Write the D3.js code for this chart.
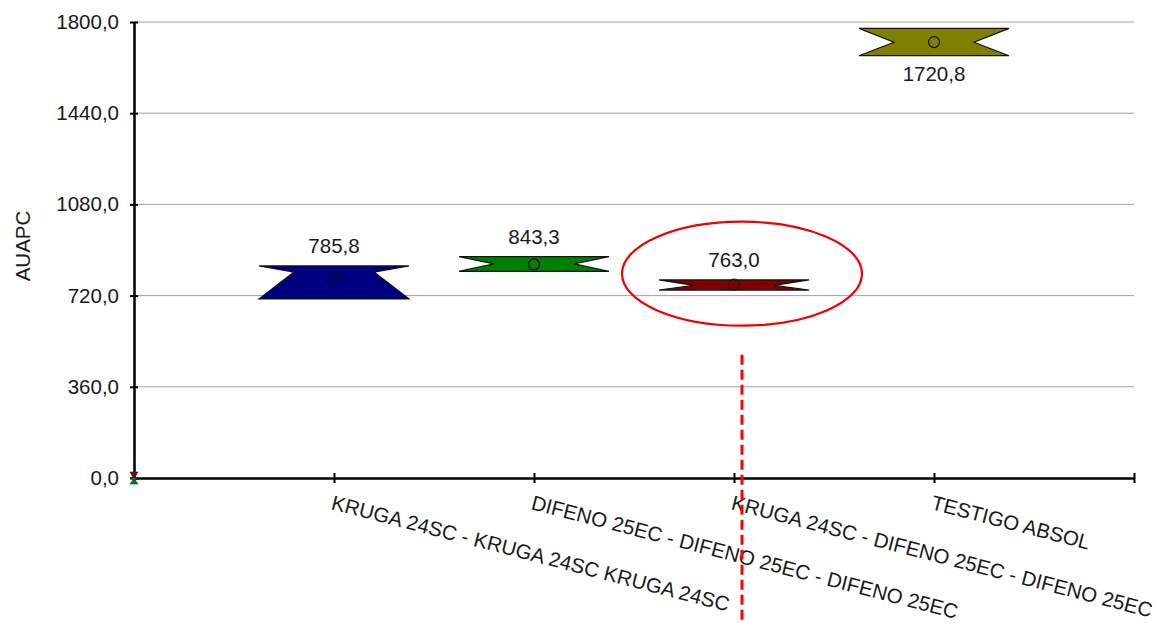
<!DOCTYPE html>
<html>
<head>
<meta charset="utf-8">
<script src="https://cdn.jsdelivr.net/npm/d3@7"></script>
<style>
  body { margin: 0; background: #fff; }
  text { font-family: "Liberation Sans", Arial, sans-serif; fill: #1a1a1a; }
</style>
</head>
<body>
<script>
// Treatments and their box statistics (AUAPC)
const categories = [
    "KRUGA 24SC - KRUGA 24SC KRUGA 24SC",
    "DIFENO 25EC - DIFENO 25EC - DIFENO 25EC",
    "KRUGA 24SC - DIFENO 25EC - DIFENO 25EC",
    "TESTIGO ABSOL"
];
const means   = [785.8, 843.3, 763.0, 1720.8];
const lower   = [707, 816, 742, 1667];   // bottom edge of box
const upper   = [837, 874, 782, 1775];   // top edge of box
const medians = [813, 845, 760, 1720];   // notch tips
const colors  = ["#000080", "#008000", "#800000", "#808000"];
const yTicks  = [0, 360, 720, 1080, 1440, 1800];

const width = 1158, height = 623;
const fontSize = 20.5;

const svg = d3.select("body").append("svg")
    .attr("width", width)
    .attr("height", height);

// Scales: x runs 0..5 with treatments at 1..4
const x = d3.scaleLinear().domain([0, 5]).range([134, 1134]);
const y = d3.scaleLinear().domain([0, 1800]).range([478, 22]);
const fmt = v => d3.format(".1f")(v).replace(".", ",");

// Grid lines
svg.append("g")
    .selectAll("line")
    .data(yTicks.filter(d => d > 0))
    .enter().append("line")
    .attr("x1", x(0)).attr("x2", x(5))
    .attr("y1", d => y(d)).attr("y2", d => y(d))
    .attr("stroke", "#a0a0a0")
    .attr("stroke-width", 1);

// Y axis
const yAxis = svg.append("g")
    .attr("transform", `translate(${x(0)},0)`)
    .call(d3.axisLeft(y).tickValues(yTicks).tickSize(4).tickSizeOuter(0).tickFormat(fmt));
yAxis.select(".domain").attr("stroke", "#000").attr("stroke-width", 2.5);
yAxis.selectAll(".tick line").attr("x2", 4).attr("x1", -4).attr("stroke", "#000").attr("stroke-width", 2);
yAxis.selectAll(".tick text")
    .attr("x", -15)
    .style("font-size", fontSize + "px")
    .style("font-family", "Liberation Sans, Arial, sans-serif")
    .attr("fill", "#1a1a1a");

// X axis
const xAxis = svg.append("g")
    .attr("transform", `translate(0,${y(0)})`)
    .call(d3.axisBottom(x).tickValues([0, 1, 2, 3, 4, 5]).tickSize(4).tickSizeOuter(0).tickFormat(""));
xAxis.select(".domain").attr("stroke", "#000").attr("stroke-width", 2.5);
xAxis.selectAll(".tick line").attr("y1", -5).attr("y2", 5).attr("stroke", "#000").attr("stroke-width", 2);

// Rotated category labels
svg.append("g")
    .selectAll("text")
    .data(categories)
    .enter().append("text")
    .attr("transform", (d, i) => `translate(${x(i + 1)},${y(0) + 16}) rotate(14.5)`)
    .attr("dy", "0.75em")
    .style("font-size", fontSize + "px")
    .text(d => d);

// Y axis title
svg.append("text")
    .attr("transform", `translate(30,${(y(0) + y(1800)) / 2 - 4}) rotate(-90)`)
    .attr("text-anchor", "middle")
    .style("font-size", fontSize + "px")
    .text("AUAPC");

// Notched boxes
const band = x(1) - x(0);
const halfW = band * 0.375;
const tipW = band * 0.2;

const boxes = svg.append("g")
    .selectAll("g")
    .data(categories.map((c, i) => ({ i: i, lo: lower[i], hi: upper[i], med: medians[i], mean: means[i] })))
    .enter().append("g");

boxes.append("path")
    .attr("d", d => {
        const cx = x(d.i + 1);
        const pts = [
            [cx - halfW, y(d.lo)], [cx - tipW, y(d.med)], [cx - halfW, y(d.hi)],
            [cx + halfW, y(d.hi)], [cx + tipW, y(d.med)], [cx + halfW, y(d.lo)]
        ];
        return d3.line()(pts) + "Z";
    })
    .attr("fill", d => colors[d.i])
    .attr("stroke", "#111")
    .attr("stroke-width", 1.2);

boxes.append("circle")
    .attr("cx", d => x(d.i + 1))
    .attr("cy", d => y(d.mean))
    .attr("r", 5.5)
    .attr("fill", "none")
    .attr("stroke", "#111")
    .attr("stroke-width", 1.2);

// Value labels: above the box, below it if there is no room at the top
boxes.append("text")
    .attr("x", d => x(d.i + 1))
    .attr("y", d => y(d.hi) - 20 < y(1800) + 10 ? y(d.lo) + 18 : y(d.hi) - 20)
    .attr("dy", "0.35em")
    .attr("text-anchor", "middle")
    .style("font-size", fontSize + "px")
    .text(d => fmt(d.mean));

// Tiny marker at the origin
const o = svg.append("g").attr("transform", `translate(${x(0)},${y(0)})`);
o.append("path").attr("d", "M-4,-6L4,-6L1,-1L4,0L-4,0L-1,-1Z").attr("fill", "#800000").attr("stroke", "#222").attr("stroke-width", 0.6);
o.append("path").attr("d", "M-4,0L4,0L1,2L4,6L-4,6L-1,2Z").attr("fill", "#008000").attr("stroke", "#226").attr("stroke-width", 0.6);

// Highlight around the third treatment
const hx = x(3) + 8;
svg.append("ellipse")
    .attr("cx", hx)
    .attr("cy", y(means[2]) - 11)
    .attr("rx", 120)
    .attr("ry", 52)
    .attr("fill", "none")
    .attr("stroke", "#f00000")
    .attr("stroke-width", 2.2);

svg.append("line")
    .attr("x1", hx).attr("x2", hx)
    .attr("y1", y(means[2]) + 70).attr("y2", height)
    .attr("stroke", "#ff0000")
    .attr("stroke-width", 3)
    .attr("stroke-dasharray", "10,5");
</script>
</body>
</html>
